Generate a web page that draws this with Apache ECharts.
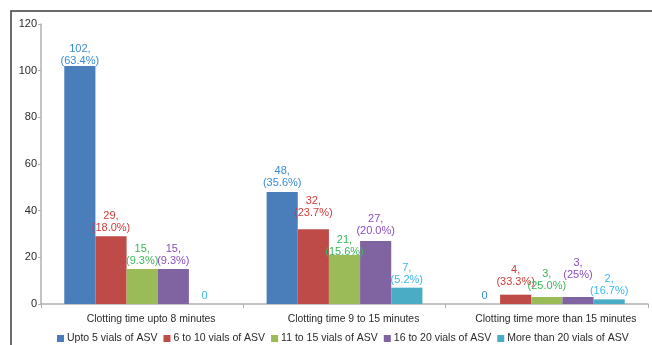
<!DOCTYPE html>
<html>
<head>
<meta charset="utf-8">
<script src="https://cdn.jsdelivr.net/npm/echarts@6/dist/echarts.min.js"></script>
<style>
  html, body { margin: 0; padding: 0; background: #fff; }
  #chart { width: 652px; height: 345px; }
</style>
</head>
<body>
<div id="chart"></div>
<script>
// Clotting time groups
var categories = ['Clotting time upto 8 minutes', 'Clotting time 9 to 15 minutes', 'Clotting time more than 15 minutes'];

// Number of patients per ASV vial group, with percentage of each clotting-time group
var seriesNames = ['Upto 5 vials of ASV', '6 to 10 vials of ASV', '11 to 15 vials of ASV', '16 to 20 vials of ASV', 'More than 20 vials of ASV'];
var upto5 = [102, 48, 0];
var upto5Pct = ['63.4%', '35.6%', null];
var v6to10 = [29, 32, 4];
var v6to10Pct = ['18.0%', '23.7%', '33.3%'];
var v11to15 = [15, 21, 3];
var v11to15Pct = ['9.3%', '15.6%', '25.0%'];
var v16to20 = [15, 27, 3];
var v16to20Pct = ['9.3%', '20.0%', '25%'];
var moreThan20 = [0, 7, 2];
var moreThan20Pct = [null, '5.2%', '16.7%'];

var yTicks = { min: 0, max: 120, interval: 20 };

var barColors = ['#4a7ebb', '#be4b48', '#9bbb59', '#8064a2', '#4bacc6'];
var labelColors = ['#3a8bd3', '#d33b3b', '#3bb85a', '#8a4fc6', '#3db7ea'];
// vertical nudges for individual value labels (px), so stacked texts don't collide
var labelNudge = [
  [3, -1, 0],
  [0, -8, -5],
  [0, 5, -3],
  [0, -2, -14],
  [0, 0, 0]
];

var values = [upto5, v6to10, v11to15, v16to20, moreThan20];
var pcts = [upto5Pct, v6to10Pct, v11to15Pct, v16to20Pct, moreThan20Pct];

var FONT = '"Liberation Sans", Arial, sans-serif';

var series = seriesNames.map(function (name, si) {
  return {
    name: name,
    type: 'bar',
    barGap: '0%',
    barCategoryGap: '23%',
    itemStyle: { color: barColors[si] },
    label: {
      show: true,
      position: 'top',
      distance: 2,
      color: labelColors[si],
      fontFamily: FONT,
      fontSize: 11,
      lineHeight: 12,
      formatter: function (p) {
        var pc = pcts[si][p.dataIndex];
        return pc ? p.value + ',\n(' + pc + ')' : String(p.value);
      }
    },
    data: values[si].map(function (v, ci) {
      var d = { value: v };
      if (labelNudge[si][ci]) d.label = { offset: [0, labelNudge[si][ci]] };
      return d;
    })
  };
});

var chart = echarts.init(document.getElementById('chart'), null, { renderer: 'canvas' });
chart.setOption({
  animation: false,
  backgroundColor: '#fff',
  textStyle: { fontFamily: FONT },
  graphic: [{
    type: 'rect',
    shape: { x: 11, y: 11, width: 700, height: 400 },
    style: { fill: 'none', stroke: '#3c3c3c', lineWidth: 1.5 },
    silent: true
  }],
  grid: { left: 41, right: 4, top: 24, bottom: 41, containLabel: false },
  legend: {
    top: 333,
    left: 57,
    padding: 0,
    itemWidth: 7,
    itemHeight: 7,
    itemGap: 6,
    icon: 'rect',
    textStyle: { fontFamily: FONT, fontSize: 10.5, color: '#2a2a2a', padding: [0, 0, 0, -2] },
    data: seriesNames
  },
  xAxis: {
    type: 'category',
    data: categories,
    axisLine: { lineStyle: { color: '#b0b0b0', width: 1.5 } },
    axisTick: { show: true, length: 4, alignWithLabel: false, lineStyle: { color: '#b0b0b0' } },
    axisLabel: { interval: 0, color: '#2a2a2a', fontFamily: FONT, fontSize: 10.4, margin: 10, padding: [0, 0, 0, 18] }
  },
  yAxis: {
    type: 'value',
    min: yTicks.min,
    max: yTicks.max,
    interval: yTicks.interval,
    axisLine: { show: true, lineStyle: { color: '#b0b0b0', width: 1.5 } },
    axisTick: { show: true, length: 3, lineStyle: { color: '#b0b0b0' } },
    splitLine: { show: false },
    axisLabel: { color: '#2a2a2a', fontFamily: FONT, fontSize: 11, margin: 4 }
  },
  series: series
});
</script>
</body>
</html>
